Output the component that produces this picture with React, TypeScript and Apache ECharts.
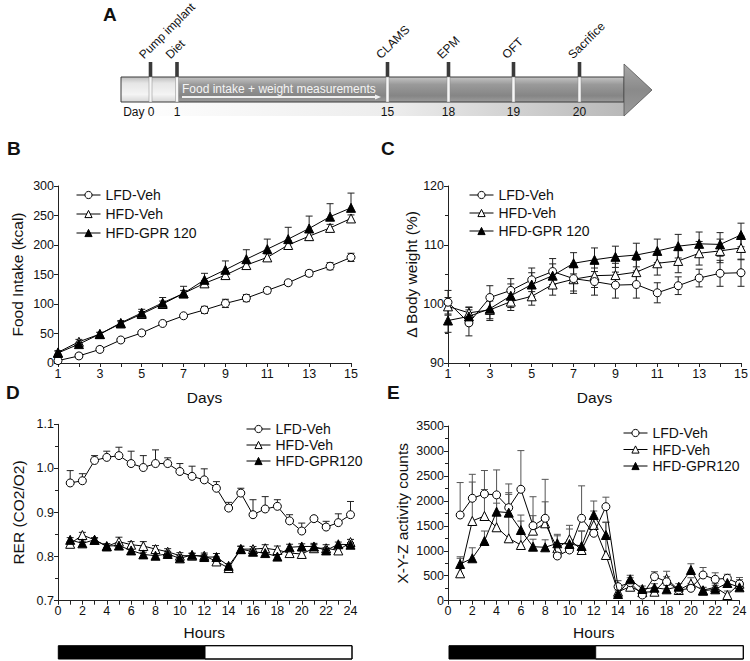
import React, { useEffect, useRef } from "react";
import * as echarts from "echarts";

// ---------- DATA ----------
const days = [1, 2, 3, 4, 5, 6, 7, 8, 9, 10, 11, 12, 13, 14, 15];
const hours = [1, 2, 3, 4, 5, 6, 7, 8, 9, 10, 11, 12, 13, 14, 15, 16, 17, 18, 19, 20, 21, 22, 23, 24];

// Panel B: cumulative food intake (kcal)
const foodLFD = [4, 12, 23, 39, 51, 67, 80, 90, 101, 110, 123, 136, 152, 164, 179];
const foodLFDErr = [3, 4, 4, 3, 3, 3, 3, 6, 7, 6, 5, 4, 5, 6, 7];
const foodHFDVeh = [18, 36, 49, 67, 83, 100, 118, 135, 149, 166, 179, 200, 215, 229, 245];
const foodHFDVehErr = [3, 4, 3, 3, 4, 5, 5, 5, 6, 5, 6, 7, 7, 6, 6];
const foodGPR = [17, 32, 49, 68, 85, 102, 118, 141, 158, 176, 193, 210, 228, 248, 263];
const foodGPRErr = [3, 3, 3, 4, 6, 9, 12, 11, 15, 16, 17, 20, 21, 22, 25];

// Panel C: body weight (% of day 1)
const bwLFD = [100.3, 96.8, 101.1, 102.3, 104.1, 105.5, 104.3, 103.8, 103.2, 103.3, 101.9, 103.1, 104.4, 105.2, 105.3];
const bwLFDErr = [2, 2.2, 2, 2, 2, 2.2, 2.5, 2.3, 2.2, 2.3, 1.7, 1.5, 1.5, 2.2, 2.3];
const bwHFDVeh = [99.6, 98.5, 99.0, 100.4, 101.3, 103.3, 104.2, 104.8, 104.9, 105.4, 106.9, 107.3, 108.6, 109.0, 109.5];
const bwHFDVehErr = [1.5, 1, 1.5, 1.5, 1.5, 1.8, 2, 2, 2, 2, 2, 2, 2, 2, 2];
const bwGPR = [97.2, 97.9, 99.2, 101.4, 103.3, 104.8, 106.9, 107.5, 108.0, 108.3, 109.0, 109.8, 110.2, 110.1, 111.7];
const bwGPRErr = [2, 1.5, 2, 2, 2, 2, 1.8, 2, 1.8, 2, 2, 2, 2, 2, 2];

// Panel D: RER
const rerLFD = [0.967, 0.972, 1.018, 1.025, 1.029, 1.011, 1.002, 1.011, 1.011, 0.993, 0.982, 0.974, 0.955, 0.91, 0.944, 0.895, 0.908, 0.914, 0.881, 0.858, 0.886, 0.867, 0.877, 0.895];
const rerLFDErr = [0.028, 0.016, 0.011, 0.014, 0.019, 0.028, 0.027, 0.031, 0.013, 0.018, 0.023, 0.025, 0.015, 0.013, 0.011, 0.034, 0.028, 0.015, 0.014, 0.018, 0.004, 0.013, 0.02, 0.03];
const rerHFDVeh = [0.829, 0.849, 0.838, 0.823, 0.834, 0.827, 0.824, 0.817, 0.811, 0.802, 0.802, 0.802, 0.789, 0.774, 0.817, 0.817, 0.819, 0.815, 0.808, 0.806, 0.819, 0.819, 0.814, 0.833];
const rerHFDVehErr = [0.005, 0.006, 0.005, 0.006, 0.01, 0.007, 0.01, 0.008, 0.007, 0.007, 0.005, 0.006, 0.01, 0.005, 0.007, 0.006, 0.008, 0.009, 0.008, 0.007, 0.008, 0.008, 0.008, 0.006];
const rerGPR = [0.838, 0.83, 0.838, 0.824, 0.825, 0.814, 0.805, 0.802, 0.806, 0.796, 0.804, 0.799, 0.799, 0.779, 0.817, 0.811, 0.808, 0.8, 0.821, 0.823, 0.823, 0.814, 0.828, 0.827];
const rerGPRErr = [0.005, 0.005, 0.004, 0.005, 0.006, 0.005, 0.005, 0.006, 0.006, 0.007, 0.004, 0.005, 0.008, 0.005, 0.006, 0.006, 0.006, 0.006, 0.007, 0.006, 0.007, 0.006, 0.005, 0.005];

// Panel E: activity counts
const actLFD = [1717, 2052, 2138, 2120, 1864, 2232, 1503, 1651, 896, 1016, 1651, 1351, 1884, 281, 360, 114, 481, 380, 214, 248, 515, 429, 449, 335];
const actLFDErr = [650, 480, 470, 500, 475, 775, 580, 780, 100, 200, 650, 300, 190, 120, 100, 60, 100, 100, 60, 100, 150, 130, 80, 130];
const actHFDVeh = [549, 1597, 1697, 1471, 1250, 1116, 1403, 1551, 1050, 1230, 1016, 1517, 916, 180, 280, 170, 180, 440, 214, 340, 210, 270, 114, 340];
const actHFDVehErr = [300, 780, 530, 660, 880, 600, 300, 430, 250, 280, 380, 280, 650, 100, 100, 60, 80, 150, 60, 120, 60, 80, 80, 80];
const actGPR = [735, 850, 1196, 1784, 1764, 1416, 1082, 1070, 1150, 1136, 1096, 1717, 1316, 134, 429, 234, 261, 228, 281, 615, 200, 228, 355, 268];
const actGPRErr = [145, 210, 200, 170, 400, 180, 150, 150, 180, 300, 300, 280, 260, 80, 80, 60, 80, 80, 60, 125, 60, 80, 80, 60];

// Panel A: timeline
const timelineEvents = ["Pump implant", "Diet", "CLAMS", "EPM", "OFT", "Sacrifice"];
const timelineDays = ["Day 0", "1", "15", "18", "19", "20"];
const timelineNote = "Food intake + weight measurements";

const namesBC = ["LFD-Veh", "HFD-Veh", "HFD-GPR 120"];
const namesDE = ["LFD-Veh", "HFD-Veh", "HFD-GPR120"];

// ---------- STYLE HELPERS ----------
const FONT = '"Liberation Sans", Arial, Helvetica, sans-serif';
const INK = "#111";

type Kind = "circle" | "open" | "filled";

function lineSeries(name: string, gi: number, xs: number[], ys: number[], kind: Kind) {
  return {
    type: "line",
    name,
    xAxisIndex: gi,
    yAxisIndex: gi,
    data: xs.map((x, i) => [x, ys[i]]),
    symbol: kind === "circle" ? "circle" : "triangle",
    symbolSize: kind === "circle" ? 8 : 9,
    showSymbol: true,
    lineStyle: { color: "#000", width: 1 },
    itemStyle: { color: kind === "filled" ? "#000" : "#fff", borderColor: "#000", borderWidth: 1 },
    emphasis: { disabled: true },
    z: kind === "circle" ? 4 : kind === "open" ? 3 : 5,
  };
}

function errSeries(gi: number, xs: number[], ys: number[], errs: number[], dir: "up" | "both", color: string) {
  return {
    type: "custom",
    name: "err",
    xAxisIndex: gi,
    yAxisIndex: gi,
    silent: true,
    z: 2,
    encode: { x: 0, y: 1 },
    data: xs.map((x, i) => [x, ys[i], errs[i], dir === "both" ? errs[i] : 0]),
    renderItem: (_p: any, api: any) => {
      const x = api.value(0), y = api.value(1), up = api.value(2), dn = api.value(3);
      const c = api.coord([x, y]);
      const cap = 3.5;
      const st = { stroke: color, lineWidth: 1 };
      const ch: any[] = [];
      if (up > 0) {
        const t = api.coord([x, y + up]);
        ch.push({ type: "line", shape: { x1: c[0], y1: c[1], x2: t[0], y2: t[1] }, style: st });
        ch.push({ type: "line", shape: { x1: t[0] - cap, y1: t[1], x2: t[0] + cap, y2: t[1] }, style: st });
      }
      if (dn > 0) {
        const b = api.coord([x, y - dn]);
        ch.push({ type: "line", shape: { x1: c[0], y1: c[1], x2: b[0], y2: b[1] }, style: st });
        ch.push({ type: "line", shape: { x1: b[0] - cap, y1: b[1], x2: b[0] + cap, y2: b[1] }, style: st });
      }
      return { type: "group", children: ch };
    },
  };
}

function axisCommon() {
  return {
    axisLine: { show: true, onZero: false, lineStyle: { color: "#222", width: 1 } },
    axisTick: { show: true, length: 4, lineStyle: { color: "#222", width: 1 } },
    axisLabel: { fontFamily: FONT, fontSize: 12.5, color: INK, margin: 4 },
    splitLine: { show: false },
    minorSplitLine: { show: false },
    nameLocation: "middle",
    nameTextStyle: { fontFamily: FONT, fontSize: 15.5, fontWeight: "normal", color: INK },
  };
}

function xAxisCfg(gi: number, min: number, max: number, interval: number, name: string, nameGap: number) {
  return {
    type: "value", gridIndex: gi, min, max, interval, name, nameGap,
    ...axisCommon(),
    minorTick: { show: true, splitNumber: 2, length: 4, lineStyle: { color: "#222", width: 1 } },
  };
}

function yAxisCfg(gi: number, min: number, max: number, interval: number, name: string, nameGap: number, minor: boolean, fmt: (v: number) => string) {
  const c: any = {
    type: "value", gridIndex: gi, min, max, interval, name, nameGap,
    ...axisCommon(),
    minorTick: { show: minor, splitNumber: 2, length: 3, lineStyle: { color: "#222", width: 1 } },
  };
  c.axisLabel = { ...c.axisLabel, formatter: fmt };
  return c;
}

function legendCfg(names: string[], left: number, top: number, gap: number) {
  return {
    orient: "vertical", left, top, itemWidth: 24, itemHeight: 9, itemGap: gap,
    selectedMode: false, data: names,
    itemStyle: { borderWidth: 1 },
    lineStyle: { width: 1 },
    textStyle: { fontFamily: FONT, fontSize: 14, color: INK },
  };
}

// ---------- PANEL A (timeline) ----------
function timelineGraphics() {
  const BL = 121, BR = 624, BT = 77, BB = 102, SB = 116, TIP = 652;
  const markerX = [150.5, 177, 387.5, 448.5, 513.5, 579.5];
  const els: any[] = [];
  const vgrad = (stops: [number, string][]) => ({
    type: "linear", x: 0, y: 0, x2: 0, y2: 1,
    colorStops: stops.map(([o, c]) => ({ offset: o, color: c })),
  });
  els.push({
    type: "rect", shape: { x: BL, y: BB, width: BR - BL, height: SB - BB },
    style: { fill: { type: "linear", x: 0, y: 0, x2: 1, y2: 0, colorStops: [{ offset: 0, color: "#ffffff" }, { offset: 0.55, color: "#ececec" }, { offset: 1, color: "#b8b8b8" }] } },
  });
  els.push({ type: "rect", shape: { x: BL, y: BT, width: markerX[1] - BL, height: BB - BT }, style: { fill: vgrad([[0, "#bdbdbd"], [0.25, "#e6e6e6"], [0.7, "#f4f4f4"], [1, "#d6d6d6"]]) } });
  els.push({ type: "rect", shape: { x: markerX[1], y: BT, width: BR - markerX[1], height: BB - BT }, style: { fill: vgrad([[0, "#c4c4c4"], [0.3, "#9a9a9a"], [0.75, "#858585"], [1, "#9c9c9c"]]) } });
  els.push({ type: "rect", shape: { x: BL, y: BT, width: BR - BL, height: BB - BT }, style: { fill: "none", stroke: "#3a3a3a", lineWidth: 1 } });
  els.push({
    type: "polygon", shape: { points: [[BR, 64], [TIP, 90], [BR, SB]] },
    style: { fill: vgrad([[0, "#a8a8a8"], [0.5, "#8a8a8a"], [1, "#9a9a9a"]]), stroke: "#555", lineWidth: 0.8 },
  });
  markerX.forEach((x, i) => {
    els.push({ type: "rect", shape: { x: x - 1.8, y: 62, width: 3.6, height: BT - 62 }, style: { fill: "#3a3a3a" } });
    els.push({ type: "rect", shape: { x: x - 1.5, y: BT, width: 3, height: BB - BT }, style: { fill: "#f6f6f6", stroke: "#888", lineWidth: 0.5 } });
    els.push({
      type: "text", x: x - 5, y: 61, rotation: Math.PI / 4,
      style: { text: timelineEvents[i], font: `12px ${FONT}`, fontSize: 12, fontFamily: FONT, fill: INK, textAlign: "left", align: "left", textVerticalAlign: "bottom", verticalAlign: "bottom" },
    });
    const isFirst = i === 0;
    els.push({
      type: "text", x: isFirst ? x + 4 : x, y: 111.5,
      style: { text: timelineDays[i], font: `12px ${FONT}`, fontSize: 12, fontFamily: FONT, fill: INK, textAlign: isFirst ? "right" : "center", align: isFirst ? "right" : "center", textVerticalAlign: "middle", verticalAlign: "middle" },
    });
  });
  els.push({
    type: "text", x: 182, y: 88.5,
    style: { text: timelineNote, font: `12px ${FONT}`, fontSize: 12, fontFamily: FONT, fill: "#f4f4f4", textAlign: "left", align: "left", textVerticalAlign: "middle", verticalAlign: "middle" },
  });
  els.push({ type: "line", shape: { x1: 182, y1: 97, x2: 376, y2: 97 }, style: { stroke: "#f0f0f0", lineWidth: 2 } });
  els.push({ type: "polygon", shape: { points: [[375, 94.5], [381, 97], [375, 99.5]] }, style: { fill: "#f0f0f0" } });
  return els;
}

function letter(t: string, x: number, y: number) {
  return {
    type: "text", x, y,
    style: { text: t, font: `bold 19px ${FONT}`, fontSize: 19, fontWeight: "bold", fontFamily: FONT, fill: INK, textAlign: "left", align: "left", textVerticalAlign: "middle", verticalAlign: "middle" },
  };
}

function dayNightBar(x0: number, xm: number, x1: number, y: number, h: number) {
  return [
    { type: "rect", shape: { x: x0, y, width: xm - x0, height: h }, style: { fill: "#000" } },
    { type: "rect", shape: { x: xm, y, width: x1 - xm, height: h }, style: { fill: "#fff", stroke: "#000", lineWidth: 1 } },
    { type: "rect", shape: { x: x0, y, width: x1 - x0, height: h }, style: { fill: "none", stroke: "#000", lineWidth: 1 } },
  ];
}

export default function App() {
  const ref = useRef<HTMLDivElement>(null);
  useEffect(() => {
    if (!ref.current) return;
    const chart = echarts.init(ref.current, undefined, { renderer: "svg" });
    const plain = (v: number) => String(v);
    const option: any = {
      animation: false,
      backgroundColor: "#fff",
      textStyle: { fontFamily: FONT },
      grid: [
        { left: 58, top: 186, width: 293, height: 177, outerBoundsMode: "none" },
        { left: 448, top: 186, width: 293, height: 177, outerBoundsMode: "none" },
        { left: 58, top: 424.3, width: 292.5, height: 176.4, outerBoundsMode: "none" },
        { left: 448, top: 426, width: 291.5, height: 174.7, outerBoundsMode: "none" },
      ],
      xAxis: [
        xAxisCfg(0, 1, 15, 2, "Days", 26),
        xAxisCfg(1, 1, 15, 2, "Days", 26),
        xAxisCfg(2, 0, 24, 2, "Hours", 24),
        xAxisCfg(3, 0, 24, 2, "Hours", 24),
      ],
      yAxis: [
        yAxisCfg(0, 0, 300, 50, "Food Intake (kcal)", 33, false, plain),
        yAxisCfg(1, 90, 120, 10, "Δ Body weight (%)", 27, true, plain),
        yAxisCfg(2, 0.7, 1.1, 0.1, "RER (CO2/O2)", 32, true, (v: number) => v.toFixed(1)),
        yAxisCfg(3, 0, 3500, 500, "X-Y-Z activity counts", 38, true, plain),
      ],
      legend: [
        legendCfg(namesBC, 71, 183, 5),
        legendCfg(namesBC, 464, 183, 4),
        legendCfg(namesDE, 241, 417, 2),
        legendCfg(namesDE, 618, 421, 2.5),
      ],
      series: [
        errSeries(0, days, foodLFD, foodLFDErr, "both", "#222"),
        errSeries(0, days, foodHFDVeh, foodHFDVehErr, "both", "#222"),
        errSeries(0, days, foodGPR, foodGPRErr, "up", "#222"),
        lineSeries(namesBC[0], 0, days, foodLFD, "circle"),
        lineSeries(namesBC[1], 0, days, foodHFDVeh, "open"),
        lineSeries(namesBC[2], 0, days, foodGPR, "filled"),

        errSeries(1, days, bwLFD, bwLFDErr, "both", "#222"),
        errSeries(1, days, bwHFDVeh, bwHFDVehErr, "both", "#222"),
        errSeries(1, days, bwGPR, bwGPRErr, "both", "#222"),
        lineSeries(namesBC[0], 1, days, bwLFD, "circle"),
        lineSeries(namesBC[1], 1, days, bwHFDVeh, "open"),
        lineSeries(namesBC[2], 1, days, bwGPR, "filled"),

        errSeries(2, hours, rerLFD, rerLFDErr, "up", "#222"),
        errSeries(2, hours, rerHFDVeh, rerHFDVehErr, "up", "#222"),
        errSeries(2, hours, rerGPR, rerGPRErr, "up", "#222"),
        lineSeries(namesDE[0], 2, hours, rerLFD, "circle"),
        lineSeries(namesDE[1], 2, hours, rerHFDVeh, "open"),
        lineSeries(namesDE[2], 2, hours, rerGPR, "filled"),

        errSeries(3, hours, actLFD, actLFDErr, "up", "#555"),
        errSeries(3, hours, actHFDVeh, actHFDVehErr, "up", "#555"),
        errSeries(3, hours, actGPR, actGPRErr, "up", "#555"),
        lineSeries(namesDE[0], 3, hours, actLFD, "circle"),
        lineSeries(namesDE[1], 3, hours, actHFDVeh, "open"),
        lineSeries(namesDE[2], 3, hours, actGPR, "filled"),
      ],
      graphic: [
        ...timelineGraphics(),
        letter("A", 103, 14),
        letter("B", 7, 148),
        letter("C", 381, 148),
        letter("D", 6, 392),
        letter("E", 387, 392),
        ...dayNightBar(58.3, 205, 352, 645.7, 13.3),
        ...dayNightBar(449, 595.7, 743.3, 645.7, 13.3),
      ],
    };
    chart.setOption(option);
    return () => chart.dispose();
  }, []);
  return (
    <div
      ref={ref}
      style={{ position: "absolute", left: 0, top: 0, width: 750, height: 661, background: "#fff" }}
    />
  );
}
